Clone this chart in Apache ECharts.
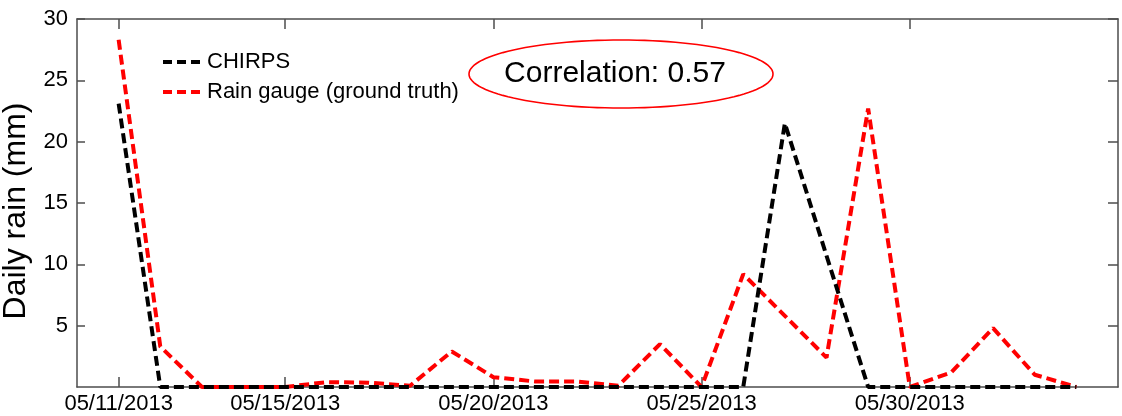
<!DOCTYPE html>
<html>
<head>
<meta charset="utf-8">
<script src="https://cdn.jsdelivr.net/npm/echarts@6/dist/echarts.min.js"></script>
<style>
  html, body { margin: 0; padding: 0; background: #fff; }
  #chart { width: 1122px; height: 416px; }
</style>
</head>
<body>
<div id="chart"></div>
<script>
// ---- Data ----
const dates = [
  '05/11/2013','05/12/2013','05/13/2013','05/14/2013','05/15/2013','05/16/2013',
  '05/17/2013','05/18/2013','05/19/2013','05/20/2013','05/21/2013','05/22/2013',
  '05/23/2013','05/24/2013','05/25/2013','05/26/2013','05/27/2013','05/28/2013',
  '05/29/2013','05/30/2013','05/31/2013','06/01/2013','06/02/2013','06/03/2013'
];
const chirps = [23.1, 0, 0, 0, 0, 0, 0, 0, 0, 0, 0, 0, 0, 0, 0, 0, 21.5, 10.7, 0, 0, 0, 0, 0, 0];
const rainGauge = [28.3, 3.3, 0, 0, 0, 0.4, 0.35, 0.1, 2.9, 0.8, 0.45, 0.45, 0.1, 3.5, 0, 9.2, 5.8, 2.4, 22.7, 0, 1.2, 4.8, 1.0, 0];
const xTickLabels = ['05/11/2013', '05/15/2013', '05/20/2013', '05/25/2013', '05/30/2013'];
const yTickValues = [5, 10, 15, 20, 25, 30];
const seriesNames = ['CHIRPS', 'Rain gauge (ground truth)'];
const annotationText = 'Correlation: 0.57';
const yAxisTitle = 'Daily rain (mm)';

// ---- Build ----
const xTickPos = xTickLabels.map(d => dates.indexOf(d));
const toPairs = arr => arr.map((v, i) => [i, v]);
const FONT = 'Liberation Sans, Arial, sans-serif';
const axisColor = '#4d4d4d';

const chart = echarts.init(document.getElementById('chart'), null, { renderer: 'canvas' });

// ellipse outline for the annotation (decoration, not data)
const ell = { cx: 621, cy: 74, rx: 152, ry: 34 };
const ellPts = [];
for (let k = 0; k < 120; k++) {
  const t = (k / 120) * Math.PI * 2;
  ellPts.push([ell.cx + ell.rx * Math.cos(t), ell.cy + ell.ry * Math.sin(t)]);
}

const baseX = {
  type: 'value', min: -1, max: 24,
  splitLine: { show: false },
  axisLine: { show: true, onZero: false, lineStyle: { color: axisColor, width: 1.5 } }
};
const baseY = {
  type: 'value', min: 0, max: 30, interval: 5,
  splitLine: { show: false },
  axisLine: { show: true, onZero: false, lineStyle: { color: axisColor, width: 1.5 } }
};

const option = {
  animation: false,
  backgroundColor: '#fff',
  grid: { left: 77, right: 4, top: 19, bottom: 29, containLabel: false, outerBoundsMode: 'none' },
  legend: {
    data: seriesNames,
    orient: 'vertical',
    left: 156, top: 46,
    itemWidth: 39, itemHeight: 12, itemGap: 8,
    itemStyle: { opacity: 0 },
    lineStyle: { width: 4, type: [9, 5] },
    textStyle: { fontFamily: FONT, fontSize: 22, color: '#000', lineHeight: 22 }
  },
  xAxis: [
    Object.assign({}, baseX, {
      position: 'bottom',
      axisTick: { show: true, inside: true, length: 10, customValues: xTickPos, lineStyle: { color: axisColor, width: 1.5 } },
      axisLabel: {
        show: true, customValues: xTickPos, margin: 6,
        fontFamily: FONT, fontSize: 22, color: '#000',
        formatter: v => dates[Math.round(v)]
      }
    }),
    Object.assign({}, baseX, {
      position: 'top',
      axisTick: { show: true, inside: true, length: 10, customValues: xTickPos, lineStyle: { color: axisColor, width: 1.5 } },
      axisLabel: { show: false }
    })
  ],
  yAxis: [
    Object.assign({}, baseY, {
      position: 'left',
      name: yAxisTitle,
      nameLocation: 'middle',
      nameGap: 39,
      nameTextStyle: { fontFamily: FONT, fontSize: 32, color: '#000', padding: [0, 16, 0, 0] },
      axisTick: { show: true, inside: true, length: 8, customValues: yTickValues, lineStyle: { color: axisColor, width: 1.5 } },
      axisLabel: {
        show: true, customValues: yTickValues, margin: 9,
        fontFamily: FONT, fontSize: 22, color: '#000'
      }
    }),
    Object.assign({}, baseY, {
      position: 'right',
      axisTick: { show: true, inside: true, length: 10, customValues: yTickValues, lineStyle: { color: axisColor, width: 1.5 } },
      axisLabel: { show: false }
    })
  ],
  series: [
    {
      name: seriesNames[0], type: 'line', data: toPairs(chirps),
      xAxisIndex: 0, yAxisIndex: 0,
      symbol: 'none', z: 3,
      lineStyle: { color: '#000', width: 4, type: [10, 5] },
      itemStyle: { color: '#000' }
    },
    {
      name: seriesNames[1], type: 'line', data: toPairs(rainGauge),
      xAxisIndex: 0, yAxisIndex: 0,
      symbol: 'none', z: 2,
      lineStyle: { color: '#ff0000', width: 4, type: [10, 5] },
      itemStyle: { color: '#ff0000' }
    }
  ],
  graphic: [
    {
      type: 'polygon', z: 10,
      shape: { points: ellPts },
      style: { fill: 'none', stroke: '#ff0000', lineWidth: 1.6 }
    },
    {
      type: 'text', z: 11,
      x: 615, y: 74,
      style: {
        text: annotationText, fontFamily: FONT, fontSize: 30, fill: '#000',
        align: 'center', verticalAlign: 'middle'
      }
    }
  ]
};

chart.setOption(option);
</script>
</body>
</html>
